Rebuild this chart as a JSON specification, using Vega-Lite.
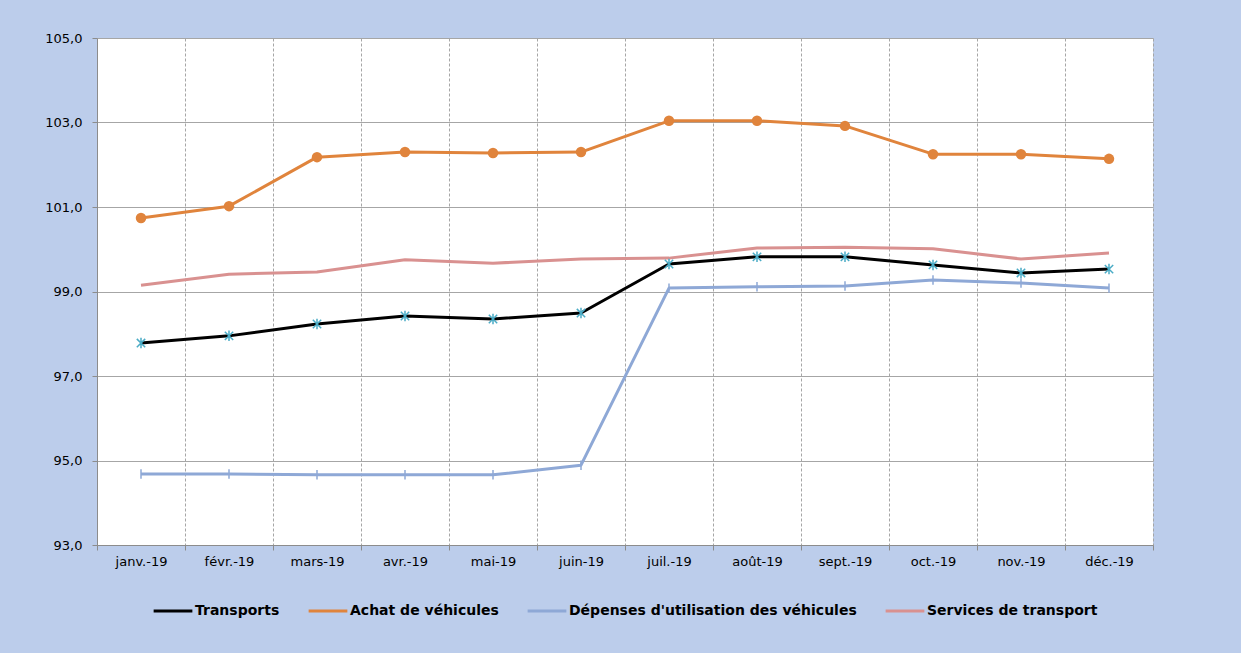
{
  "$schema": "https://vega.github.io/schema/vega-lite/v6.json",
  "width": 1056,
  "height": 507,
  "autosize": {"type": "none"},
  "padding": {"left": 97, "top": 38, "right": 88, "bottom": 108},
  "background": "#BCCDEB",
  "config": {
    "view": {"fill": "#FFFFFF", "stroke": null},
    "font": "DejaVu Sans",
    "axis": {"labelFont": "DejaVu Sans", "labelFontSize": 13, "labelColor": "#000000"},
    "legend": {"layout": {"bottom": {"anchor": "middle"}}}
  },
  "data": {
    "values": [
      {"m": "janv.-19", "s": "Transports", "v": 97.78},
      {"m": "févr.-19", "s": "Transports", "v": 97.95},
      {"m": "mars-19", "s": "Transports", "v": 98.23},
      {"m": "avr.-19", "s": "Transports", "v": 98.42},
      {"m": "mai-19", "s": "Transports", "v": 98.35},
      {"m": "juin-19", "s": "Transports", "v": 98.49},
      {"m": "juil.-19", "s": "Transports", "v": 99.65},
      {"m": "août-19", "s": "Transports", "v": 99.82},
      {"m": "sept.-19", "s": "Transports", "v": 99.82},
      {"m": "oct.-19", "s": "Transports", "v": 99.63},
      {"m": "nov.-19", "s": "Transports", "v": 99.44},
      {"m": "déc.-19", "s": "Transports", "v": 99.53},
      {"m": "janv.-19", "s": "Achat de véhicules", "v": 100.74},
      {"m": "févr.-19", "s": "Achat de véhicules", "v": 101.02},
      {"m": "mars-19", "s": "Achat de véhicules", "v": 102.18},
      {"m": "avr.-19", "s": "Achat de véhicules", "v": 102.30},
      {"m": "mai-19", "s": "Achat de véhicules", "v": 102.28},
      {"m": "juin-19", "s": "Achat de véhicules", "v": 102.30},
      {"m": "juil.-19", "s": "Achat de véhicules", "v": 103.04},
      {"m": "août-19", "s": "Achat de véhicules", "v": 103.04},
      {"m": "sept.-19", "s": "Achat de véhicules", "v": 102.92},
      {"m": "oct.-19", "s": "Achat de véhicules", "v": 102.25},
      {"m": "nov.-19", "s": "Achat de véhicules", "v": 102.25},
      {"m": "déc.-19", "s": "Achat de véhicules", "v": 102.14},
      {"m": "janv.-19", "s": "Dépenses d'utilisation des véhicules", "v": 94.68},
      {"m": "févr.-19", "s": "Dépenses d'utilisation des véhicules", "v": 94.68},
      {"m": "mars-19", "s": "Dépenses d'utilisation des véhicules", "v": 94.66},
      {"m": "avr.-19", "s": "Dépenses d'utilisation des véhicules", "v": 94.66},
      {"m": "mai-19", "s": "Dépenses d'utilisation des véhicules", "v": 94.66},
      {"m": "juin-19", "s": "Dépenses d'utilisation des véhicules", "v": 94.89},
      {"m": "juil.-19", "s": "Dépenses d'utilisation des véhicules", "v": 99.08},
      {"m": "août-19", "s": "Dépenses d'utilisation des véhicules", "v": 99.11},
      {"m": "sept.-19", "s": "Dépenses d'utilisation des véhicules", "v": 99.13},
      {"m": "oct.-19", "s": "Dépenses d'utilisation des véhicules", "v": 99.27},
      {"m": "nov.-19", "s": "Dépenses d'utilisation des véhicules", "v": 99.20},
      {"m": "déc.-19", "s": "Dépenses d'utilisation des véhicules", "v": 99.08},
      {"m": "janv.-19", "s": "Services de transport", "v": 99.15},
      {"m": "févr.-19", "s": "Services de transport", "v": 99.41},
      {"m": "mars-19", "s": "Services de transport", "v": 99.46},
      {"m": "avr.-19", "s": "Services de transport", "v": 99.75},
      {"m": "mai-19", "s": "Services de transport", "v": 99.67},
      {"m": "juin-19", "s": "Services de transport", "v": 99.77},
      {"m": "juil.-19", "s": "Services de transport", "v": 99.79},
      {"m": "août-19", "s": "Services de transport", "v": 100.03},
      {"m": "sept.-19", "s": "Services de transport", "v": 100.05},
      {"m": "oct.-19", "s": "Services de transport", "v": 100.01},
      {"m": "nov.-19", "s": "Services de transport", "v": 99.77},
      {"m": "déc.-19", "s": "Services de transport", "v": 99.91}
    ]
  },
  "encoding": {
    "x": {
      "field": "m", "type": "ordinal", "sort": null, "title": null,
      "scale": {"type": "band", "paddingInner": 0, "paddingOuter": 0},
      "axis": {
        "labelAngle": 0, "tickBand": "extent", "grid": true,
        "gridColor": "#A6A6A6", "gridDash": [3, 2], "gridWidth": 1,
        "domainColor": "#8C8C8C", "tickColor": "#8C8C8C", "tickSize": 5,
        "labelPadding": 5
      }
    },
    "y": {
      "field": "v", "type": "quantitative", "title": null,
      "scale": {"domain": [93, 105], "nice": false, "zero": false},
      "axis": {
        "values": [93, 95, 97, 99, 101, 103, 105],
        "labelExpr": "replace(format(datum.value, '.1f'), '.', ',')",
        "gridColor": "#A6A6A6", "gridWidth": 1,
        "domainColor": "#8C8C8C", "tickColor": "#8C8C8C", "tickSize": 5,
        "labelPadding": 10
      }
    }
  },
  "layer": [
    {
      "mark": {"type": "line", "strokeWidth": 3, "strokeJoin": "round"},
      "encoding": {
        "color": {
          "field": "s", "type": "nominal",
          "scale": {
            "domain": ["Transports", "Achat de véhicules", "Dépenses d'utilisation des véhicules", "Services de transport"],
            "range": ["#000000", "#E0843C", "#8EA8D6", "#D99190"]
          },
          "legend": {
            "title": null, "orient": "bottom", "direction": "horizontal",
            "symbolType": "stroke", "symbolStrokeWidth": 3, "symbolSize": 1500,
            "labelFont": "DejaVu Sans", "labelFontSize": 14, "labelFontWeight": "bold",
            "labelColor": "#000000", "columnPadding": 22, "labelOffset": 1,
            "offset": 22, "labelLimit": 400
          }
        }
      }
    },
    {
      "transform": [{"filter": "datum.s === 'Transports'"}],
      "mark": {"type": "point", "shape": "M-0.8,-0.8L0.8,0.8M-0.8,0.8L0.8,-0.8M0,-1L0,1", "filled": false, "stroke": "#4BACC6", "strokeWidth": 1.5, "size": 110, "opacity": 1}
    },
    {
      "transform": [{"filter": "datum.s === 'Achat de véhicules'"}],
      "mark": {"type": "circle", "color": "#E0843C", "size": 110, "opacity": 1}
    },
    {
      "transform": [{"filter": "datum.s === \"Dépenses d'utilisation des véhicules\""}],
      "mark": {"type": "point", "shape": "M0,-1L0,1", "filled": false, "stroke": "#8EA8D6", "strokeWidth": 1.5, "size": 90, "opacity": 1}
    }
  ]
}
